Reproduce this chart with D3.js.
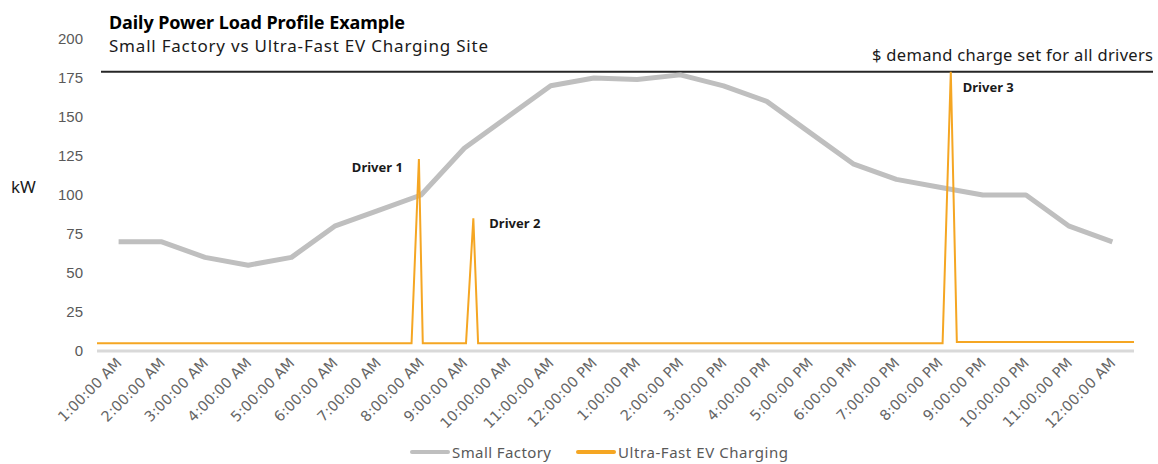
<!DOCTYPE html>
<html>
<head>
<meta charset="utf-8">
<script src="https://cdn.jsdelivr.net/npm/d3@7"></script>
<style>
  body { margin: 0; background: #fff; }
  svg { font-family: "Noto Sans", sans-serif; }
</style>
</head>
<body>
<svg id="chart" width="1158" height="464"></svg>
<script>
// hourly categories on the x axis
var hours = ["1:00:00 AM", "2:00:00 AM", "3:00:00 AM", "4:00:00 AM", "5:00:00 AM", "6:00:00 AM",
  "7:00:00 AM", "8:00:00 AM", "9:00:00 AM", "10:00:00 AM", "11:00:00 AM", "12:00:00 PM",
  "1:00:00 PM", "2:00:00 PM", "3:00:00 PM", "4:00:00 PM", "5:00:00 PM", "6:00:00 PM",
  "7:00:00 PM", "8:00:00 PM", "9:00:00 PM", "10:00:00 PM", "11:00:00 PM", "12:00:00 AM"];
var factoryLoad = [70, 70, 60, 55, 60, 80, 90, 100, 130, 150, 170, 175,
  174, 177, 170, 160, 140, 120, 110, 105, 100, 100, 80, 70];

// EV charging site, finer time steps (hour of day, kW)
var evTime = [0, 7.28, 7.45, 7.54, 8.54, 8.71, 8.82, 19.57, 19.76, 19.9, 24];
var evLoad = [5, 5, 123, 5, 5, 85, 5, 5, 179, 5.7, 5.7];

var yTicks = [0, 25, 50, 75, 100, 125, 150, 175, 200];
var demandCharge = 179;
var drivers = [
  {name: "Driver 1", t: 7.45, kw: 123},
  {name: "Driver 2", t: 8.71, kw: 85},
  {name: "Driver 3", t: 19.76, kw: 179}
];

var margin = {top: 39, right: 24, bottom: 113, left: 97},
  width = 1158 - margin.left - margin.right,
  height = 464 - margin.top - margin.bottom;

var svg = d3.select("#chart");
var g = svg.append("g").attr("transform", "translate(" + margin.left + "," + margin.top + ")");

var x = d3.scaleBand().domain(hours).range([0, width]);
var xt = d3.scaleLinear().domain([0, 24]).range([0, width]);
var y = d3.scaleLinear().domain([0, 200]).range([height, 0]);

// y axis labels only
var yAxis = g.append("g")
  .call(d3.axisLeft(y).tickValues(yTicks).tickSize(0).tickPadding(14));
yAxis.select(".domain").remove();
yAxis.selectAll("text")
  .attr("fill", "#595959")
  .style("font-size", "15px");

// x axis
var xAxis = g.append("g")
  .attr("transform", "translate(0," + height + ")")
  .call(d3.axisBottom(x).tickSize(0).tickPadding(0));
xAxis.select(".domain").remove();
xAxis.selectAll("text")
  .attr("fill", "#666")
  .style("font-family", "'DejaVu Sans', sans-serif")
  .style("font-size", "14.5px")
  .style("text-anchor", "end")
  .attr("dy", null)
  .attr("transform", "translate(4,13) rotate(-45)");

g.append("line")
  .attr("x1", 0).attr("x2", width)
  .attr("y1", y(0)).attr("y2", y(0))
  .attr("stroke", "#d9d9d9").attr("stroke-width", 3);

// demand charge line
g.append("line")
  .attr("x1", 4).attr("x2", 1153 - margin.left)
  .attr("y1", y(demandCharge)).attr("y2", y(demandCharge))
  .attr("stroke", "#262626").attr("stroke-width", 2);
g.append("text")
  .attr("x", 1153 - margin.left).attr("y", y(demandCharge) - 11)
  .attr("text-anchor", "end")
  .attr("fill", "#1a1a1a")
  .style("font-size", "16.5px")
  .attr("textLength", 281)
  .attr("lengthAdjust", "spacing")
  .text("$ demand charge set for all drivers");

// small factory line
var factoryLine = d3.line()
  .x((d, i) => x(hours[i]) + x.bandwidth() / 2)
  .y((d) => y(d));
g.append("path")
  .datum(factoryLoad)
  .attr("fill", "none")
  .attr("stroke", "#bfbfbf")
  .attr("stroke-width", 5)
  .attr("stroke-linejoin", "round")
  .attr("d", factoryLine);

// EV charging line
var evLine = d3.line()
  .x((d, i) => xt(evTime[i]))
  .y((d) => y(d));
g.append("path")
  .datum(evLoad)
  .attr("fill", "none")
  .attr("stroke", "#f5a623")
  .attr("stroke-width", 2)
  .attr("d", evLine);

// driver labels
var offsets = {"Driver 1": [-16, 13, "end"], "Driver 2": [16, 10, "start"], "Driver 3": [12, 20, "start"]};
g.selectAll(".driver")
  .data(drivers)
  .enter().append("text")
    .attr("class", "driver")
    .attr("x", (d) => xt(d.t) + offsets[d.name][0])
    .attr("y", (d) => y(d.kw) + offsets[d.name][1])
    .attr("text-anchor", (d) => offsets[d.name][2])
    .attr("fill", "#1a1a1a")
    .style("font-size", "13px")
    .style("font-weight", "bold")
    .text((d) => d.name);

// kW label
svg.append("text")
  .attr("x", 11).attr("y", 193)
  .attr("fill", "#1a1a1a")
  .style("font-size", "17px")
  .text("kW");

// titles
svg.append("text")
  .attr("x", 109).attr("y", 29)
  .attr("fill", "#000")
  .style("font-size", "18px")
  .style("font-weight", "bold")
  .attr("textLength", 296)
  .attr("lengthAdjust", "spacing")
  .text("Daily Power Load Profile Example");
svg.append("text")
  .attr("x", 109).attr("y", 52)
  .attr("fill", "#1a1a1a")
  .style("font-size", "17px")
  .attr("textLength", 379)
  .attr("lengthAdjust", "spacing")
  .text("Small Factory vs Ultra-Fast EV Charging Site");

// legend
var legend = svg.append("g").attr("transform", "translate(412,452)");
var items = [
  {name: "Small Factory", color: "#bfbfbf", x: 0, w: 99},
  {name: "Ultra-Fast EV Charging", color: "#f5a623", x: 166, w: 170}
];
var li = legend.selectAll("g").data(items).enter().append("g")
  .attr("transform", (d) => "translate(" + d.x + ",0)");
li.append("line")
  .attr("x1", 0).attr("x2", 36).attr("y1", 0).attr("y2", 0)
  .attr("stroke", (d) => d.color).attr("stroke-width", 4).attr("stroke-linecap", "round");
li.append("text")
  .attr("x", 40).attr("y", 5.5)
  .attr("fill", "#595959")
  .style("font-size", "15px")
  .attr("textLength", (d) => d.w)
  .attr("lengthAdjust", "spacing")
  .text((d) => d.name);
</script>
</body>
</html>
